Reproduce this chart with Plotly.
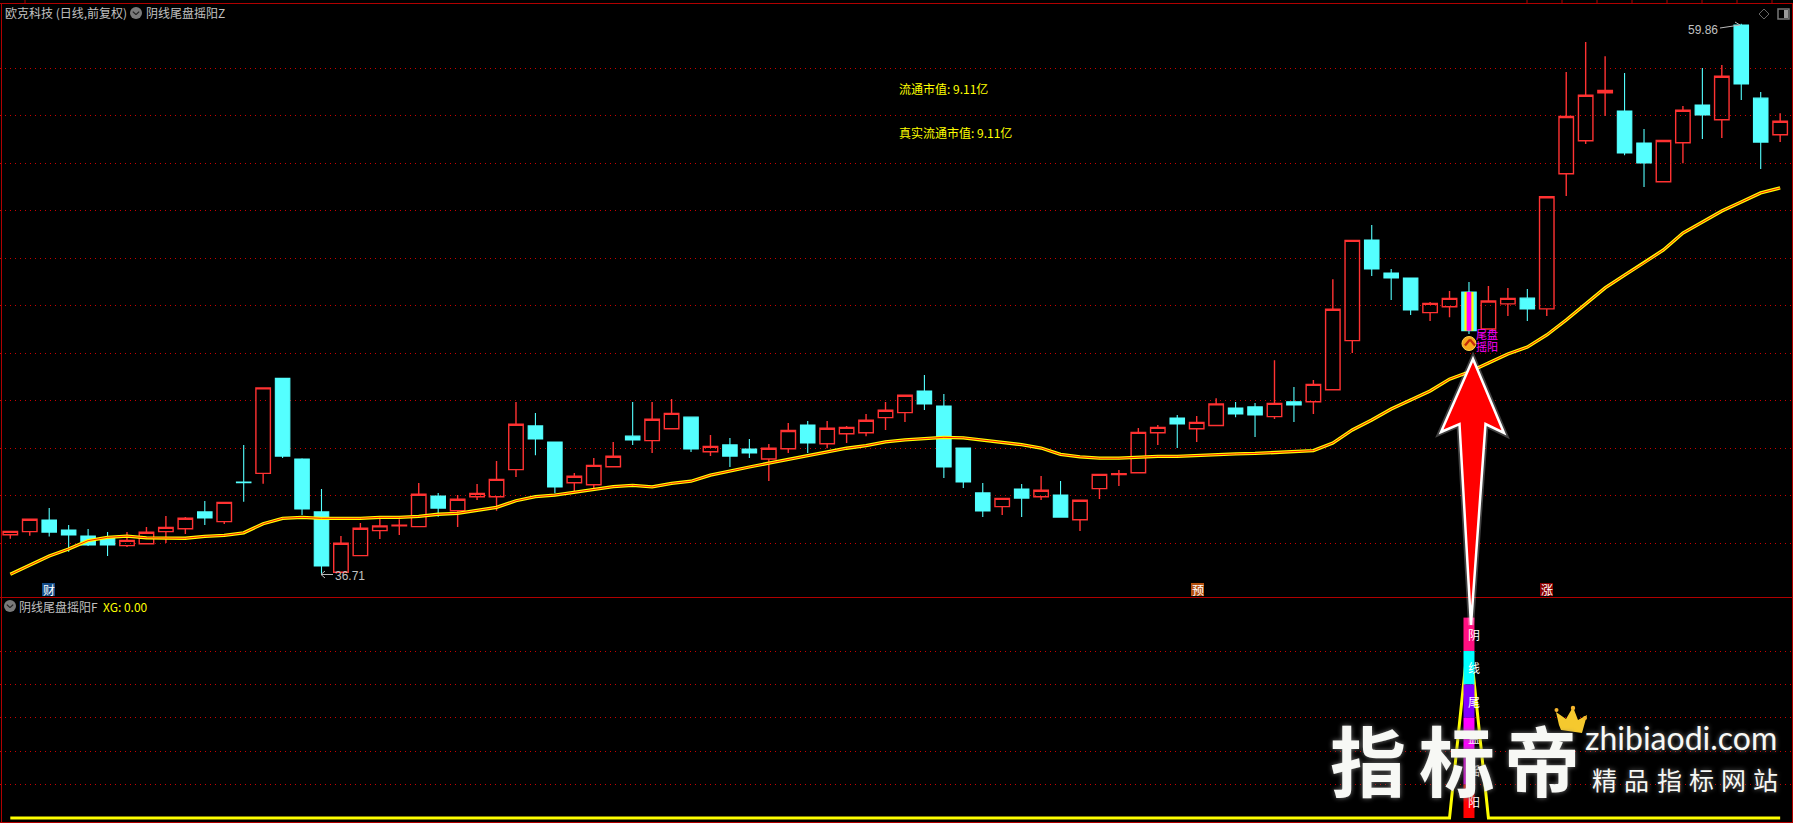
import plotly.graph_objects as go

WIDTH, HEIGHT = 1793, 823

# ---------- data ----------
open_ = [38.35,38.48,38.97,38.55,38.29,38.21,37.89,37.97,38.48,38.60,
         39.31,38.90,40.57,40.93,44.93,41.54,39.31,36.77,37.47,38.52,
         38.72,38.69,39.98,39.36,39.95,39.95,41.09,42.93,42.25,40.54,
         40.45,41.21,42.50,42.31,42.81,43.30,41.84,42.13,41.96,41.54,
         41.97,42.97,42.18,42.60,42.64,43.28,43.49,44.40,43.77,42.00,
         40.11,39.53,40.27,39.95,40.02,38.98,40.29,40.88,40.96,42.64,
         43.26,42.81,42.95,43.68,43.73,43.32,43.95,43.95,44.45,46.52,
         50.76,49.37,49.16,47.70,47.95,48.57,47.01,48.07,48.31,47.86,
         53.55,54.94,56.96,56.19,54.84,53.21,54.85,56.44,55.82,59.81,
         56.73,55.19]
high = [38.49,39.00,39.47,38.76,38.59,38.46,38.46,38.67,39.14,39.09,
        39.77,39.71,42.13,44.53,44.93,41.57,40.27,38.29,38.84,39.05,
        39.00,40.53,40.11,40.02,40.48,41.45,43.94,43.47,42.25,40.95,
        41.58,42.25,43.94,43.94,44.06,43.30,42.55,42.42,42.38,42.17,
        43.05,43.14,43.14,42.93,43.43,43.94,44.22,45.07,44.27,42.00,
        40.53,39.88,40.48,40.82,40.61,39.80,40.89,41.07,42.84,42.97,
        43.39,43.35,44.10,43.94,43.89,45.70,44.57,44.86,49.11,50.74,
        51.39,49.54,49.16,48.15,48.61,48.99,48.82,48.74,48.69,52.58,
        57.83,59.09,58.50,57.79,55.43,54.95,56.40,58.00,58.13,59.86,
        56.99,56.10]
low = [38.18,38.31,38.27,37.63,37.87,37.45,37.83,37.97,38.00,38.38,
       38.76,38.80,39.74,40.50,41.58,39.18,36.71,36.77,37.47,38.17,
       38.34,38.69,39.11,38.67,39.81,39.36,40.78,41.70,40.09,40.16,
       40.32,41.21,42.13,41.79,42.81,41.83,41.66,41.20,41.58,40.61,
       41.79,41.79,41.99,42.21,42.50,42.76,43.09,43.60,40.74,40.32,
       39.09,39.18,39.09,39.81,39.09,38.51,39.85,40.40,40.96,42.13,
       42.00,42.25,42.95,43.30,42.46,43.22,43.09,43.43,44.45,46.00,
       49.24,48.23,47.60,47.35,47.51,46.80,47.01,47.56,47.35,47.56,
       52.61,54.80,55.98,54.33,52.99,53.21,53.99,55.01,55.05,56.65,
       53.75,54.88]
close = [38.49,39.00,38.46,38.34,37.92,37.92,38.11,38.45,38.66,39.04,
         39.05,39.71,40.54,44.53,41.66,39.43,37.03,37.99,38.62,38.72,
         38.75,40.05,39.47,39.84,40.09,40.68,43.00,42.38,40.36,40.81,
         41.27,41.65,42.34,43.21,43.46,41.96,42.07,41.66,41.79,41.99,
         42.74,42.21,42.83,42.87,43.17,43.59,44.22,43.85,41.20,40.57,
         39.35,39.88,39.89,40.22,39.09,39.80,40.89,40.92,42.66,42.87,
         43.01,43.08,43.86,43.43,43.39,43.88,43.81,44.68,47.84,50.74,
         49.54,49.16,47.81,48.09,48.30,46.94,48.19,48.30,47.85,52.58,
         55.96,56.85,57.06,54.42,54.00,54.95,56.22,56.02,57.65,57.33,
         54.88,55.76]
trend = [36.68,37.07,37.45,37.75,38.10,38.24,38.29,38.22,38.20,38.20,
         38.28,38.32,38.43,38.81,39.04,39.08,39.04,39.04,39.04,39.08,
         39.08,39.12,39.21,39.25,39.36,39.50,39.78,39.95,40.02,40.13,
         40.26,40.37,40.43,40.36,40.51,40.60,40.86,41.04,41.20,41.36,
         41.52,41.66,41.82,41.99,42.10,42.26,42.34,42.41,42.45,42.43,
         42.34,42.25,42.14,42.00,41.73,41.63,41.57,41.57,41.61,41.65,
         41.65,41.69,41.72,41.75,41.77,41.81,41.83,41.89,42.21,42.76,
         43.18,43.64,44.02,44.40,44.90,45.20,45.58,45.96,46.25,46.76,
         47.39,48.06,48.74,49.28,49.79,50.34,51.05,51.51,51.98,52.36,
         52.74,52.95]
signal_index = 75
xg = [0.0]*75 + [5.55] + [0.0]*16
band_text = ["阴", "线", "尾", "盘", "摇", "阳"]
band_colors = ["#ff0f80", "#00ffff", "#8000ff", "#ff00ff", "#e000e0", "#ff0000"]
band_base = [5, 4, 3, 2, 1, 0]
band_size = [1, 1, 1, 1, 1, 1]
price_grid = [38,40,42,44,46,48,50,52,54,56,58]
xg_grid = [1,2,3,4,5]
index = list(range(len(close)))

# ---------- layout helpers ----------
def X(px): return px / WIDTH
def Y(px): return 1 - px / HEIGHT
GRID = "#cc0000"
BORDER = "#b00000"
CJK = "Noto Sans CJK SC"

x_range = [-0.53, 91.66]
fig = go.Figure()

# candles
fig.add_trace(go.Candlestick(
    x=index, open=open_, high=high, low=low, close=close,
    increasing=dict(line=dict(color="#ff3232", width=1.4), fillcolor="rgba(0,0,0,0)"),
    decreasing=dict(line=dict(color="#54ffff", width=1.1), fillcolor="#54ffff"),
    whiskerwidth=0, hoverinfo="skip", showlegend=False, xaxis="x", yaxis="y"))

# rainbow stripes on the signal candle
for col, w in (("#ffff00", 9), ("#ff00ff", 4.7)):
    fig.add_trace(go.Scatter(x=[signal_index, signal_index], y=[close[signal_index], open_[signal_index]],
                             mode="lines", line=dict(color=col, width=w),
                             hoverinfo="skip", showlegend=False, xaxis="x", yaxis="y"))

# trend line: yellow edges, red core
fig.add_trace(go.Scatter(x=index, y=trend, mode="lines", line=dict(color="#ffff00", width=3.3),
                         hoverinfo="skip", showlegend=False, xaxis="x", yaxis="y"))
fig.add_trace(go.Scatter(x=index, y=trend, mode="lines", line=dict(color="#ff2000", width=1.0),
                         hoverinfo="skip", showlegend=False, xaxis="x", yaxis="y"))

# signal icon
fig.add_trace(go.Scatter(x=[signal_index], y=[46.4], mode="markers",
                         marker=dict(symbol="circle", size=14, color="#f7a81c", line=dict(color="#ffd24a", width=1)),
                         hoverinfo="skip", showlegend=False, xaxis="x", yaxis="y"))

# lower panel: signal line first, coloured column on top of it
fig.add_trace(go.Scatter(x=index, y=xg, mode="lines", line=dict(color="#ffff00", width=3),
                         hoverinfo="skip", showlegend=False, xaxis="x2", yaxis="y2"))
for b, s, c in zip(band_base, band_size, band_colors):
    fig.add_trace(go.Scatter(x=[signal_index, signal_index], y=[b, b + s], mode="lines",
                             line=dict(color=c, width=11),
                             hoverinfo="skip", showlegend=False, xaxis="x2", yaxis="y2"))

# ---------- decoration shapes (screen positions) ----------
shapes = []
def line(x0, y0, x1, y1, color=BORDER, width=1):
    shapes.append(dict(type="line", xref="paper", yref="paper", x0=X(x0), y0=Y(y0), x1=X(x1), y1=Y(y1),
                       line=dict(color=color, width=width), layer="above"))
def poly(pts, fill, color=None, width=0, opacity=1.0):
    path = "M " + " L ".join(f"{X(a):.5f} {Y(b):.5f}" for a, b in pts) + " Z"
    shapes.append(dict(type="path", xref="paper", yref="paper", path=path, fillcolor=fill, opacity=opacity,
                       line=dict(color=color or fill, width=width), layer="above"))
def circle(cx, cy, r, fill):
    shapes.append(dict(type="circle", xref="paper", yref="paper", x0=X(cx-r), x1=X(cx+r), y0=Y(cy-r), y1=Y(cy+r),
                       fillcolor=fill, line=dict(width=0), layer="above"))
def rect(x0, y0, x1, y1, fill):
    shapes.append(dict(type="rect", xref="paper", yref="paper", x0=X(x0), x1=X(x1), y0=Y(y0), y1=Y(y1),
                       fillcolor=fill, line=dict(width=0), layer="above"))

# frame
line(0, 3.5, WIDTH, 3.5)
line(0, 597.5, WIDTH, 597.5)
line(0, 822.5, WIDTH, 822.5)
line(1.5, 3, 1.5, 823)
line(1792.5, 3, 1792.5, 823)
for tx in [25] + [1527 + 35*k for k in range(8)]:
    line(tx, 0, tx, 3.5)

# tags under the price panel
rect(42, 583, 55, 596, "#134a86")
rect(1191, 583, 1204, 596, "#b4500f")
rect(1540, 583, 1553, 596, "#8a0000")

# header icons
for cx, cy in ((10, 606), (136, 13)):
    circle(cx, cy, 6, "#7a7a7a")
    line(cx-3.2, cy-1.4, cx, cy+1.6, "#222222", 1.3)
    line(cx+3.2, cy-1.4, cx, cy+1.6, "#222222", 1.3)
poly([(1764, 9), (1769, 14), (1764, 19), (1759, 14)], "rgba(0,0,0,0)", "#666666", 1)
shapes.append(dict(type="rect", xref="paper", yref="paper", x0=X(1778), x1=X(1789), y0=Y(9), y1=Y(19),
                   line=dict(color="#777777", width=1.5), fillcolor="rgba(0,0,0,0)", layer="above"))
rect(1784, 10, 1788, 18, "#999999")

# chevron of the signal icon
line(1465, 345.5, 1470, 339.5, "#c42a08", 2.2)
line(1475, 345.5, 1470, 339.5, "#c42a08", 2.2)

# extreme value pointers
line(321, 574.5, 333, 574.5, "#bbbbbb", 1)
line(321, 574.5, 325, 571, "#bbbbbb", 1)
line(321, 574.5, 325, 578, "#bbbbbb", 1)
line(1720, 28, 1740, 25, "#bbbbbb", 1)
line(1740, 25, 1735, 22, "#bbbbbb", 1)

# big arrow
arrow = [(1473, 359), (1504, 433), (1485.5, 424), (1471, 625), (1459.5, 424), (1441, 432)]
poly(arrow, "rgba(255,255,255,0.25)", "rgba(255,255,255,0.25)", 6)
poly(arrow, "#ff0000", "#ffffff", 2.5)

# crown
poly([(1559, 725), (1556, 712), (1566, 719), (1573, 707), (1578, 720), (1587, 715), (1582, 733), (1561, 730)], "#f5c92e")
circle(1556.5, 710, 2, "#f5b52e")
circle(1573, 708, 2.2, "#f5b52e")
circle(1585, 718, 2, "#f5b52e")

# ---------- text ----------
ann = []
def text(x, y, s, color="#c0c0c0", size=12, family=CJK, anchor="left", shadow=None, weight=None):
    f = dict(color=color, size=size, family=family)
    if shadow: f["shadow"] = shadow
    if weight: f["weight"] = weight
    ann.append(dict(x=X(x), y=Y(y), xref="paper", yref="paper", text=s, showarrow=False,
                    xanchor=anchor, yanchor="middle", font=f, borderpad=0, borderwidth=0))

text(5, 13, "欧克科技 (日线,前复权)")
text(146, 13, "阴线尾盘摇阳Z")
text(19, 606, "阴线尾盘摇阳F")
text(103, 606, "XG: 0.00", "#ffff00")
text(899, 88, "流通市值: 9.11亿", "#ffff00")
text(899, 132, "真实流通市值: 9.11亿", "#ffff00")
text(1688, 30, "59.86", family="Liberation Sans")
text(335, 576, "36.71", family="Liberation Sans")
text(48.5, 589.5, "财", "#ffffff", anchor="center")
text(1197.5, 589.5, "预", "#ffffff", anchor="center")
text(1546.5, 589.5, "涨", "#ffffff", anchor="center")
text(1476, 334, "尾盘", "#ff00ff", 11)
text(1476, 346, "摇阳", "#ff00ff", 11)
for t, ty in zip(band_text, [634, 667, 701, 737, 770, 801]):
    text(1474, ty, t, "#ffffff", 12, anchor="center")

glow = "0 0 5px #777777"
for t, tx in (("指", 1368), ("标", 1457), ("帝", 1542)):
    text(tx, 758, t, "#f7f8f5", 76, anchor="center", shadow=glow, weight=700)
text(1585, 737, "zhibiaodi.com", "#f7f8f5", 32, family="Lato", shadow=glow)
for t, tx in zip("精品指标网站", [1604, 1636, 1669, 1701, 1733, 1765]):
    text(tx, 779, t, "#f7f8f5", 25, anchor="center", shadow=glow)

# ---------- axes ----------
px_per_unit = 23.75
price_range = [38 - (597 - 543) / px_per_unit, 38 + (543 - 3) / px_per_unit]
xg_zero_px, xg_band_px = 818, 33.4
xg_range = [-(823 - xg_zero_px) / xg_band_px, (xg_zero_px - 597) / xg_band_px]
grid_style = dict(showgrid=True, gridcolor=GRID, gridwidth=1, griddash="1px,4px",
                  zeroline=False, showline=False, showticklabels=False, ticks="")
hidden_x = dict(range=x_range, showgrid=False, zeroline=False, showticklabels=False, ticks="",
                showline=False, rangeslider=dict(visible=False))

fig.update_layout(
    width=WIDTH, height=HEIGHT,
    margin=dict(l=0, r=0, t=0, b=0, pad=0),
    paper_bgcolor="#000000", plot_bgcolor="rgba(0,0,0,0)",
    showlegend=False, boxmode="overlay", boxgap=0.255, boxgroupgap=0, hovermode=False,
    xaxis=dict(domain=[0, 1], anchor="y", **hidden_x),
    xaxis2=dict(domain=[0, 1], anchor="y2", **hidden_x),
    yaxis=dict(domain=[Y(597), Y(3)], anchor="x", range=price_range, tickvals=price_grid, **grid_style),
    yaxis2=dict(domain=[Y(823), Y(597)], anchor="x2", range=xg_range, tickvals=xg_grid, **grid_style),
    shapes=shapes, annotations=ann,
)

fig.write_html("out.html", config=dict(displayModeBar=False),
               post_script="document.body.style.margin='0';document.body.style.background='#000';document.body.style.overflow='hidden';")
